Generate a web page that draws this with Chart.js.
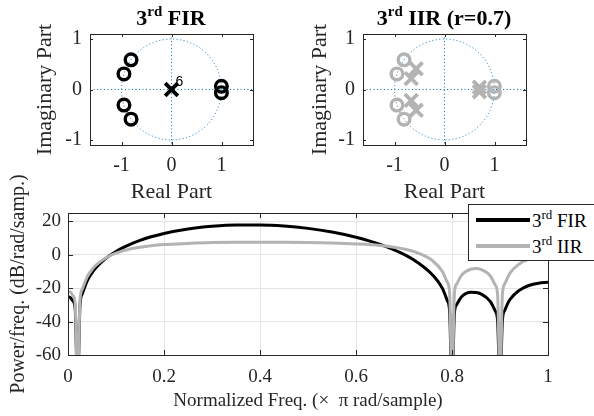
<!DOCTYPE html>
<html>
<head>
<meta charset="utf-8">
<script src="https://cdn.jsdelivr.net/npm/chart.js@4.4.1/dist/chart.umd.min.js"></script>
<style>
    body { margin: 0; background: #fff; }
    #figure { position: relative; width: 594px; height: 416px; overflow: hidden; font-family: 'Liberation Serif', 'Times New Roman', serif; }
    #figure canvas { position: absolute; }
    .pz-title { position: absolute; top: 5px; font-weight: bold; font-size: 22px; line-height: 26px; color: #000; white-space: nowrap; transform: translateX(-50%); }
    .pz-title sup, .legend-row sup { font-size: 0.68em; line-height: 0; vertical-align: 0.6em; }
    #legend { position: absolute; left: 468px; top: 204px; width: 140px; height: 55px; background: #fff; border: 1px solid #262626; z-index: 5; }
    .legend-row { position: absolute; left: 0; height: 24px; font-size: 19px; line-height: 24px; color: #000; white-space: nowrap; }
    .legend-row .swatch { position: absolute; left: 7px; width: 54px; height: 4px; }
    .legend-row .label { position: absolute; left: 63px; top: 3px; }
</style>
</head>
<body>
<div id="figure">
    <canvas id="firPz" width="297" height="205" style="left:0;top:0"></canvas>
    <canvas id="iirPz" width="297" height="205" style="left:297px;top:0"></canvas>
    <canvas id="psd" width="594" height="246" style="left:0;top:170px"></canvas>
    <div class="pz-title" style="left:171px">3<sup>rd</sup> FIR</div>
    <div class="pz-title" style="left:444px">3<sup>rd</sup> IIR (r=0.7)</div>
    <div id="legend">
        <div class="legend-row" style="top:1px"><div class="swatch" style="top:12px;background:#000"></div><span class="label">3<sup>rd</sup> FIR</span></div>
        <div class="legend-row" style="top:27px"><div class="swatch" style="top:12px;background:#b3b3b3"></div><span class="label">3<sup>rd</sup> IIR</span></div>
    </div>
</div>
<script>
// pole / zero locations
const firZerosRe = [-0.809, -0.951, -0.951, -0.809, 0.998, 0.998];
const firZerosIm = [0.588, 0.309, -0.309, -0.588, 0.063, -0.063];
const firPolesRe = [0];
const firPolesIm = [0];
const firPoleCount = '6';

const iirZerosRe = [-0.809, -0.951, -0.951, -0.809, 0.998, 0.998];
const iirZerosIm = [0.588, 0.309, -0.309, -0.588, 0.063, -0.063];
const iirPolesRe = [-0.566, -0.666, -0.666, -0.566, 0.699, 0.699];
const iirPolesIm = [0.412, 0.216, -0.216, -0.412, 0.044, -0.044];

const pzTicks = [-1, 0, 1];

// spectrum (dB/rad/sample) vs normalized frequency
const freqs = [0, 0.005, 0.01, 0.015, 0.02, 0.025, 0.03, 0.04, 0.05, 0.06, 0.08, 0.1, 0.12, 0.15,
    0.2, 0.25, 0.3, 0.35, 0.4, 0.45, 0.5, 0.55, 0.6, 0.65, 0.7, 0.73, 0.76, 0.78, 0.79, 0.795,
    0.8, 0.805, 0.81, 0.82, 0.84, 0.85, 0.86, 0.88, 0.89, 0.895, 0.9, 0.905, 0.91, 0.92, 0.94,
    0.96, 0.98, 1];
const firDb = [-25.1, -25.6, -27.6, -32.3, -80, -30.1, -23.2, -15.6, -10.8, -7.2, -1.9, 2.0, 5.0, 8.6,
    12.7, 15.4, 17.0, 17.8, 17.8, 17.2, 15.8, 13.6, 10.5, 6.2, 0.2, -4.9, -12.2, -20.1, -27.3, -33.8,
    -80, -35.1, -29.7, -25.1, -22.5, -22.6, -23.4, -28.0, -33.6, -39.5, -80, -39.3, -33.2, -27.1, -21.3,
    -18.4, -17.0, -16.5];
const iirDb = [-21.8, -22.4, -24.4, -29.1, -80, -27.2, -20.4, -13.2, -8.8, -5.8, -1.6, 1.0, 2.8, 4.5,
    6.1, 6.8, 7.3, 7.5, 7.5, 7.5, 7.4, 7.1, 6.5, 5.5, 3.4, 0.9, -3.7, -10.0, -16.4, -22.6,
    -80, -23.1, -17.4, -12.2, -8.5, -8.2, -8.7, -12.7, -18.1, -23.9, -80, -23.5, -17.4, -11.3, -5.5,
    -2.6, -1.2, -0.8];
const freqTicks = [0, 0.2, 0.4, 0.6, 0.8, 1];
const dbTicks = [-60, -40, -20, 0, 20];

const SERIF = "'Liberation Serif', 'Times New Roman', serif";
const AXIS_COLOR = '#262626';
const GUIDE_BLUE = '#0072bd';
const GREY = '#b3b3b3';

// box round the plot area plus MATLAB style inward tick marks
const axesBox = {
    id: 'axesBox',
    afterDatasetsDraw(chart, args, opts) {
        const { ctx, chartArea: a, scales } = chart;
        const len = opts.tickLength || 3;
        ctx.save();
        ctx.strokeStyle = AXIS_COLOR;
        ctx.lineWidth = 1;
        ctx.beginPath();
        scales.x.ticks.forEach(t => {
            const px = Math.round(scales.x.getPixelForValue(t.value)) + 0.5;
            ctx.moveTo(px, a.bottom); ctx.lineTo(px, a.bottom - len);
            ctx.moveTo(px, a.top); ctx.lineTo(px, a.top + len);
        });
        scales.y.ticks.forEach(t => {
            const py = Math.round(scales.y.getPixelForValue(t.value)) + 0.5;
            ctx.moveTo(a.left, py); ctx.lineTo(a.left + len, py);
            ctx.moveTo(a.right, py); ctx.lineTo(a.right - len, py);
        });
        ctx.stroke();
        ctx.strokeRect(Math.round(a.left) + 0.5, Math.round(a.top) + 0.5,
            Math.round(a.right - a.left), Math.round(a.bottom - a.top));
        ctx.restore();
    }
};

// unit circle and the two dotted axes of a pole-zero plot
const pzGuides = {
    id: 'pzGuides',
    beforeDatasetsDraw(chart, args, opts) {
        const { ctx, chartArea: a, scales: { x, y } } = chart;
        const cx = x.getPixelForValue(0);
        const cy = y.getPixelForValue(0);
        ctx.save();
        ctx.strokeStyle = GUIDE_BLUE;
        ctx.lineWidth = 1;
        ctx.setLineDash([1, 2.5]);
        ctx.beginPath();
        ctx.ellipse(cx, cy, x.getPixelForValue(1) - cx, cy - y.getPixelForValue(1), 0, 0, Math.PI * 2);
        ctx.stroke();
        ctx.beginPath();
        ctx.moveTo(a.left, cy); ctx.lineTo(a.right, cy);
        ctx.moveTo(cx, a.top); ctx.lineTo(cx, a.bottom);
        ctx.stroke();
        ctx.restore();
    },
    afterDatasetsDraw(chart, args, opts) {
        if (!opts.poleLabel) return;
        const { ctx, scales: { x, y } } = chart;
        ctx.save();
        ctx.fillStyle = '#000';
        ctx.font = "14px 'Liberation Sans', Arial, sans-serif";
        ctx.textBaseline = 'alphabetic';
        ctx.fillText(opts.poleLabel, x.getPixelForValue(0) + 4, y.getPixelForValue(0) - 4);
        ctx.restore();
    }
};

function serif(size) {
    return { family: SERIF, size: size };
}

function createPzChart(id, zerosRe, zerosIm, polesRe, polesIm, color, layout) {
    const ctx = document.getElementById(id);
    return new Chart(ctx, {
        type: 'scatter',
        data: {
            datasets: [{
                label: 'Zero',
                data: zerosRe.map((re, i) => ({ x: re, y: zerosIm[i] })),
                pointStyle: 'circle',
                pointRadius: 5.8,
                pointBorderWidth: 3.4,
                borderColor: color,
                backgroundColor: 'rgba(0,0,0,0)'
            }, {
                label: 'Pole',
                data: polesRe.map((re, i) => ({ x: re, y: polesIm[i] })),
                pointStyle: 'crossRot',
                pointRadius: 9,
                pointBorderWidth: 3.8,
                borderColor: color,
                backgroundColor: color
            }]
        },
        options: {
            responsive: false,
            animation: false,
            events: [],
            layout: { padding: { top: 34, right: layout.right, left: 0, bottom: 0 } },
            plugins: {
                legend: { display: false },
                tooltip: { enabled: false },
                pzGuides: { poleLabel: layout.poleLabel },
                axesBox: { tickLength: 3 }
            },
            scales: {
                x: {
                    type: 'linear',
                    min: -1.63,
                    max: 1.63,
                    afterBuildTicks: s => { s.ticks = pzTicks.map(v => ({ value: v })); },
                    afterFit: s => { s.height = 60; },
                    grid: { display: false, drawTicks: false },
                    border: { display: false },
                    ticks: { color: AXIS_COLOR, font: serif(20), padding: 9, maxRotation: 0, callback: v => String(v) },
                    title: { display: true, text: 'Real Part', color: AXIS_COLOR, font: serif(22), padding: { top: 0, bottom: 0 } }
                },
                y: {
                    type: 'linear',
                    min: -1.1,
                    max: 1.1,
                    afterBuildTicks: s => { s.ticks = pzTicks.map(v => ({ value: v })); },
                    afterFit: s => { s.width = layout.left; },
                    grid: { display: false, drawTicks: false },
                    border: { display: false },
                    ticks: { color: AXIS_COLOR, font: serif(20), padding: 8, callback: v => String(v) },
                    title: { display: true, text: 'Imaginary Part', color: AXIS_COLOR, font: serif(22), padding: { top: layout.titleOffset, bottom: 0 } }
                }
            }
        },
        plugins: [pzGuides, axesBox]
    });
}

function createPsdChart() {
    const ctx = document.getElementById('psd');
    return new Chart(ctx, {
        type: 'line',
        data: {
            labels: freqs,
            datasets: [{
                label: '3rd FIR',
                data: freqs.map((f, i) => ({ x: f, y: firDb[i] })),
                borderColor: '#000',
                borderWidth: 3,
                pointRadius: 0,
                cubicInterpolationMode: 'monotone',
                clip: 0,
                order: 2
            }, {
                label: '3rd IIR',
                data: freqs.map((f, i) => ({ x: f, y: iirDb[i] })),
                borderColor: GREY,
                borderWidth: 3,
                pointRadius: 0,
                cubicInterpolationMode: 'monotone',
                clip: 0,
                order: 1
            }]
        },
        options: {
            responsive: false,
            animation: false,
            events: [],
            layout: { padding: { top: 43, right: 46, left: 0, bottom: 0 } },
            plugins: {
                legend: { display: false },
                tooltip: { enabled: false },
                axesBox: { tickLength: 5 }
            },
            scales: {
                x: {
                    type: 'linear',
                    min: 0,
                    max: 1,
                    afterBuildTicks: s => { s.ticks = freqTicks.map(v => ({ value: v })); },
                    afterFit: s => { s.height = 61; },
                    grid: { color: '#e4e4e4', lineWidth: 1, drawTicks: false },
                    border: { display: false },
                    ticks: { color: AXIS_COLOR, font: serif(19), padding: 11, maxRotation: 0, callback: v => String(v) },
                    title: { display: true, text: 'Normalized Freq. (\u00d7  \u03c0 rad/sample)', color: AXIS_COLOR, font: serif(19), padding: { top: 0, bottom: 4 } }
                },
                y: {
                    type: 'linear',
                    min: -60,
                    max: 25,
                    afterBuildTicks: s => { s.ticks = dbTicks.map(v => ({ value: v })); },
                    afterFit: s => { s.width = 68; },
                    grid: { color: '#e4e4e4', lineWidth: 1, drawTicks: false },
                    border: { display: false },
                    ticks: { color: AXIS_COLOR, font: serif(19), padding: 7, callback: v => String(v) },
                    title: { display: true, text: 'Power/freq. (dB/rad/samp.)', color: AXIS_COLOR, font: serif(20), padding: { top: 7, bottom: 0 } }
                }
            }
        },
        plugins: [axesBox]
    });
}

createPzChart('firPz', firZerosRe, firZerosIm, firPolesRe, firPolesIm, '#000',
    { left: 90, right: 44, titleOffset: 32, poleLabel: firPoleCount });
createPzChart('iirPz', iirZerosRe, iirZerosIm, iirPolesRe, iirPolesIm, GREY,
    { left: 66, right: 68, titleOffset: 10, poleLabel: null });
createPsdChart();
</script>
</body>
</html>
